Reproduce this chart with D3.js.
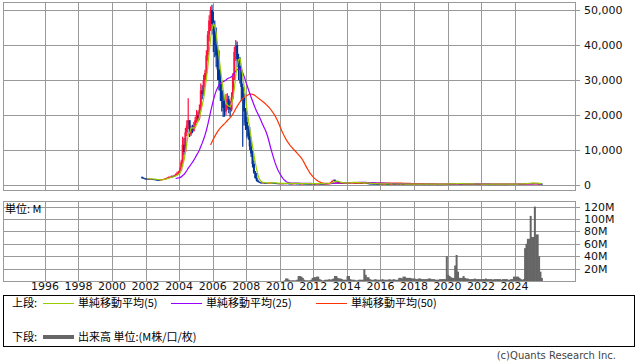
<!DOCTYPE html>
<html lang="ja">
<head>
<meta charset="UTF-8">
<title>株価チャート</title>
<script src="https://d3js.org/d3.v7.min.js"></script>
<style>
    body { margin: 0; background: #fff; }
    svg { display: block; font-family: "DejaVu Sans", "Noto Sans CJK JP", sans-serif; }
</style>
</head>
<body>
<svg id="chart" width="638" height="362"></svg>
<script>
// first month of the price data, one entry per month after that
const startMonth = [2001, 10];

// monthly closes (yen), 2001-10 .. 2025-08
const close = [
    2100, 1900, 1800,
    1700, 1800, 1700, 1750, 1700, 1650, 1600, 1500, 1450, 1400, 1500, 1600,
    1700, 1800, 1900, 2100, 2200, 2300, 2500, 2400, 2700, 2900, 3300, 3600,
    4200, 6500, 11500, 9500, 15000, 17000, 18500, 14500, 16000, 15500, 17000, 18500,
    20000, 19000, 21500, 27000, 26000, 30000, 32000, 37000, 43000, 47000, 50000, 46000,
    44000, 40000, 37000, 33000, 30000, 27000, 24000, 22000, 21000, 23000, 24500, 22000,
    21500, 25000, 31000, 38000, 40000, 36000, 34000, 33000, 28000, 25000, 21000, 18000,
    16000, 14000, 11000, 9000, 6000, 3500, 2000, 1200, 900, 700, 650, 700,
    650, 600, 550, 600, 650, 700, 650, 600, 550, 500, 500, 480,
    500, 480, 450, 500, 520, 480, 450, 430, 420, 450, 480, 460,
    450, 430, 380, 400, 420, 410, 400, 390, 380, 370, 360, 380,
    370, 360, 380, 400, 380, 370, 360, 350, 360, 380, 420, 500,
    800, 1200, 1500, 1100, 900, 800, 700, 650, 600, 620, 600, 580,
    600, 650, 800, 850, 750, 700, 650, 700, 650, 600, 580, 600,
    700, 600, 500, 450, 420, 400, 380, 360, 350, 340, 330, 320,
    320, 300, 300, 310, 300, 290, 280, 290, 300, 290, 280, 280,
    280, 270, 280, 290, 280, 270, 260, 270, 280, 270, 260, 270,
    270, 260, 250, 260, 270, 260, 250, 240, 250, 260, 250, 240,
    240, 250, 260, 250, 240, 230, 240, 250, 240, 250, 260, 300,
    450, 350, 300, 320, 350, 380, 500, 400, 350, 330, 320, 310,
    300, 320, 310, 300, 290, 280, 290, 300, 290, 280, 270, 270,
    260, 270, 260, 250, 260, 250, 240, 250, 260, 250, 240, 250,
    250, 240, 250, 260, 250, 240, 250, 260, 270, 280, 270, 260,
    270, 280, 300, 290, 300, 320, 350, 450, 500, 550, 480, 520,
    600, 500, 550, 480, 450, 420, 400, 380
];
const firstOpen = 2200;

// monthly highs / lows for the active years 2001-10 .. 2008-12
const high = [
    2400, 2150, 1950,
    1850, 1850, 1850, 1800, 1800, 1750, 1700, 1650, 1550, 1500, 1550, 1650,
    1750, 1850, 2000, 2200, 2400, 2500, 2700, 2700, 2900, 3300, 3800, 4000,
    5000, 7200, 13800, 13400, 16300, 18500, 24800, 18500, 17000, 17200, 18000, 19500,
    21400, 21000, 23000, 29000, 28500, 31500, 32900, 38500, 44000, 48500, 51000, 51500,
    49500, 47000, 45000, 40000, 38500, 33000, 29000, 27000, 25000, 26000, 26200, 25500,
    24000, 26500, 32000, 39500, 41400, 41000, 37500, 36600, 33700, 29000, 26200, 22000,
    19400, 17000, 16600, 12500, 10000, 7000, 4000, 3400, 1500, 1000, 800, 800
];
const low = [
    1900, 1850, 1750,
    1650, 1650, 1650, 1650, 1650, 1600, 1550, 1450, 1350, 1250, 1350, 1450,
    1550, 1650, 1750, 1850, 2000, 2100, 2200, 2300, 2300, 2600, 2800, 3100,
    3500, 4000, 5200, 8600, 9200, 14000, 16000, 13700, 14000, 14800, 15200, 16500,
    17800, 18200, 18500, 21000, 24500, 25500, 28000, 30500, 35500, 41000, 44000, 43000,
    38000, 36500, 33700, 30000, 27000, 24000, 21000, 19400, 19500, 20000, 21500, 20500,
    19500, 21000, 24500, 30000, 35500, 33700, 30000, 29000, 24000, 10900, 17000, 15700,
    13500, 12900, 10000, 8000, 5000, 3200, 1800, 1000, 800, 600, 550, 600
];

// monthly volume (M), 2010-01 .. 2025-08
const volStart = [2010, 1];
const volume = [
    0, 0, 0, 1, 4, 4, 2, 1, 1, 1, 1, 1,
    2, 8, 8, 7, 5, 2, 1, 1, 1, 1, 2, 5,
    6, 6, 7, 7, 3, 2, 1, 1, 2, 2, 2, 3,
    2, 3, 4, 8, 8, 5, 4, 4, 3, 2, 2, 2,
    8, 8, 3, 2, 2, 2, 1, 1, 2, 2, 2, 2,
    19, 10, 6, 6, 3, 2, 2, 2, 3, 2, 2, 2,
    2, 3, 2, 2, 2, 2, 3, 2, 2, 3, 2, 2,
    2, 5, 5, 4, 7, 7, 5, 5, 5, 5, 4, 4,
    4, 3, 3, 4, 4, 3, 3, 3, 3, 3, 4, 4,
    3, 3, 3, 2, 2, 2, 3, 3, 3, 3, 3, 40,
    10, 8, 6, 5, 5, 25, 42, 15, 5, 5, 5, 8,
    5, 4, 4, 3, 3, 3, 3, 4, 3, 3, 3, 3,
    3, 3, 3, 4, 3, 3, 3, 3, 2, 3, 3, 3,
    3, 3, 2, 3, 3, 3, 3, 2, 2, 3, 3, 7,
    7, 7, 7, 5, 3, 2, 3, 53, 60, 68, 68, 105,
    71, 71, 120, 75, 75, 40, 15, 5
];

const yearTicks = d3.range(1996, 2025, 2);
const priceTicks = [0, 10000, 20000, 30000, 40000, 50000];
const volTicks = [20, 40, 60, 80, 100, 120];
const maPeriods = [5, 25, 50];
const maColors = ["#99cc00", "#9900ff", "#ff3300"];
const maLabels = ["単純移動平均(5)", "単純移動平均(25)", "単純移動平均(50)"];

const svg = d3.select("#chart");
const gridColor = "#999";
const left = 3, right = 575;
const top1 = 2, bottom1 = 190;
const top2 = 201, bottom2 = 281;

const monthPos = (start, i) => start[0] + (start[1] - 1 + i) / 12 + 1 / 24;

const x = d3.scaleLinear().domain([1993.5, 2027.6]).range([left, right]);
const y = d3.scaleLinear().domain([0, 50000]).range([185, 10]);
const yv = d3.scaleLinear().domain([0, 120]).range([bottom2, 206.6]);

const candles = close.map((c, i) => {
    const o = i === 0 ? firstOpen : close[i - 1];
    return {
        t: monthPos(startMonth, i), o, c,
        h: high[i] !== undefined ? high[i] : Math.max(o, c),
        l: low[i] !== undefined ? low[i] : Math.min(o, c)
    };
});

// panel frames and grid
function panel(y0, y1, yScale, ticks, fmt) {
    const g = svg.append("g");
    g.append("rect").attr("x", left + 0.5).attr("y", y0 + 0.5)
        .attr("width", right - left).attr("height", y1 - y0)
        .attr("fill", "none").attr("stroke", gridColor);
    g.selectAll(".vg").data(yearTicks).join("line")
        .attr("x1", d => Math.round(x(d)) + 0.5).attr("x2", d => Math.round(x(d)) + 0.5)
        .attr("y1", y0).attr("y2", y1).attr("stroke", gridColor);
    g.selectAll(".hg").data(ticks).join("line")
        .attr("x1", left).attr("x2", right + 5)
        .attr("y1", d => Math.round(yScale(d)) + 0.5).attr("y2", d => Math.round(yScale(d)) + 0.5)
        .attr("stroke", gridColor);
    g.selectAll("text").data(ticks).join("text")
        .attr("x", right + 9).attr("y", d => yScale(d) + 4)
        .attr("font-size", 11).attr("fill", "#111")
        .text(fmt);
}

panel(top1, bottom1, y, priceTicks, d3.format(","));
panel(top2, bottom2, yv, volTicks, d => d + "M");

// candles
const cg = svg.append("g");
cg.selectAll("line").data(candles.filter(d => d.h > d.l)).join("line")
    .attr("x1", d => x(d.t)).attr("x2", d => x(d.t))
    .attr("y1", d => y(d.h)).attr("y2", d => y(d.l))
    .attr("stroke", d => d.c >= d.o ? "#ff1040" : "#003399").attr("stroke-width", 1.2);
cg.selectAll("rect").data(candles).join("rect")
    .attr("x", d => x(d.t) - 1)
    .attr("y", d => y(Math.max(d.o, d.c)))
    .attr("width", 2)
    .attr("height", d => Math.max(1, Math.abs(y(d.o) - y(d.c))))
    .attr("fill", d => d.c >= d.o ? "#ff1040" : "#003399");

// moving averages of the closes
maPeriods.slice().reverse().forEach((p, k) => {
    const idx = maPeriods.length - 1 - k;
    const pts = [];
    for (let i = p - 1; i < close.length; i++) {
        pts.push({ t: candles[i].t, v: d3.mean(close.slice(i - p + 1, i + 1)) });
    }
    svg.append("path").datum(pts)
        .attr("fill", "none").attr("stroke", maColors[idx]).attr("stroke-width", 1.2)
        .attr("d", d3.line().x(d => x(d.t)).y(d => y(d.v)));
});

// volume bars
svg.append("g").selectAll("rect").data(volume.map((v, i) => ({ t: monthPos(volStart, i), v })).filter(d => d.v > 0))
    .join("rect")
    .attr("x", d => x(d.t) - 1).attr("width", 2)
    .attr("y", d => yv(d.v)).attr("height", d => bottom2 - yv(d.v))
    .attr("fill", "#666");

svg.append("text").attr("x", 5).attr("y", 213).attr("font-size", 11)
    .attr("font-family", "Noto Sans CJK JP").text("単位: M");

// year labels
svg.append("g").selectAll("text").data(yearTicks).join("text")
    .attr("x", d => x(d)).attr("y", 290).attr("text-anchor", "middle")
    .attr("font-size", 11).attr("fill", "#111").text(d => d);

// legend
const lg = svg.append("g").attr("font-family", "Noto Sans CJK JP").attr("font-size", 11);
lg.append("rect").attr("x", 3.5).attr("y", 295.5).attr("width", 631).attr("height", 51)
    .attr("fill", "none").attr("stroke", "#000");
lg.append("text").attr("x", 12).attr("y", 307).text("上段:");
const lx = [43, 171, 316];
maLabels.forEach((t, i) => {
    lg.append("line").attr("x1", lx[i]).attr("x2", lx[i] + 31).attr("y1", 303.5).attr("y2", 303.5)
        .attr("stroke", maColors[i]);
    lg.append("text").attr("x", lx[i] + 35).attr("y", 307).text(t);
});
lg.append("text").attr("x", 12).attr("y", 341).text("下段:");
lg.append("line").attr("x1", 43).attr("x2", 74).attr("y1", 337).attr("y2", 337)
    .attr("stroke", "#666").attr("stroke-width", 4);
lg.append("text").attr("x", 78).attr("y", 341).text("出来高 単位:(M株/口/枚)");

svg.append("text").attr("x", 616).attr("y", 359).attr("text-anchor", "end")
    .attr("font-size", 10).attr("fill", "#444").text("(c)Quants Research Inc.");
</script>
</body>
</html>
